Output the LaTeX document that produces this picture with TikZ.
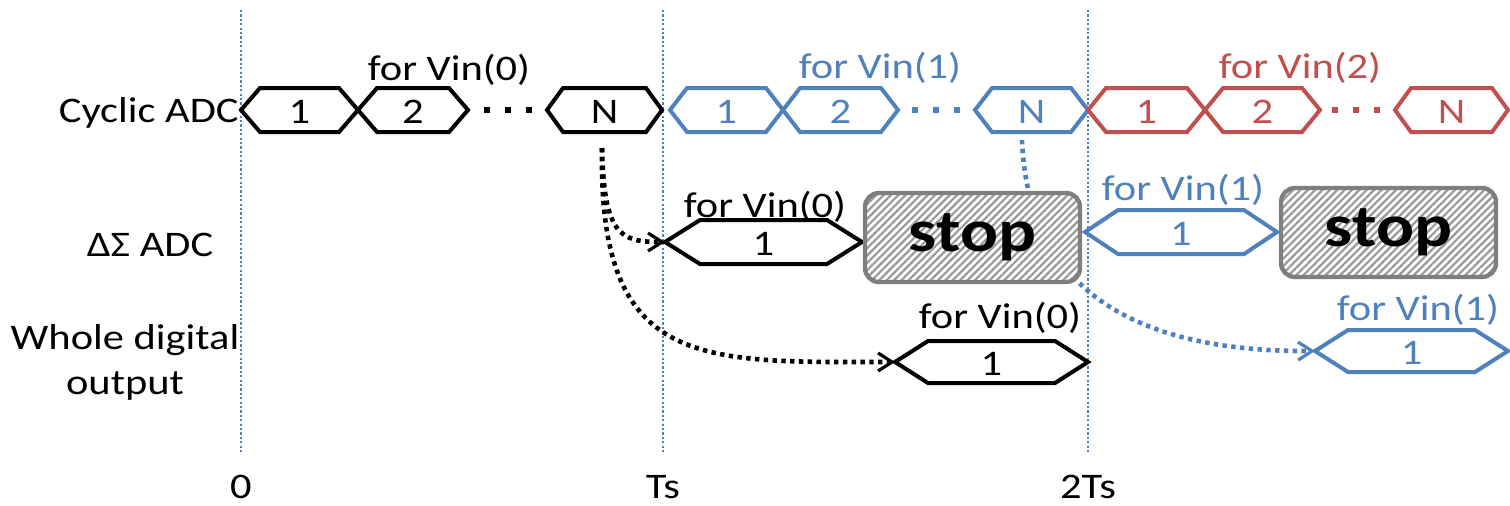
\documentclass[tikz,border=0pt]{standalone}
\usepackage{fontspec}
\setmainfont[FakeStretch=1.18]{Carlito}
\usetikzlibrary{arrows.meta,patterns.meta,backgrounds}
\definecolor{oblue}{RGB}{79,129,189}
\definecolor{ored}{RGB}{192,80,77}
\definecolor{sgray}{RGB}{127,127,127}
\tikzset{
  hexline/.style={line width=2pt, line join=miter},
  lbl/.style={font=\fontsize{18}{22.5}\selectfont, inner sep=0pt},
  vline/.style={oblue, line width=1.3pt, dash pattern=on 1.1pt off 1.1pt},
  conn/.style={line width=2.3pt, dash pattern=on 2.2pt off 2.2pt,
    -{Straight Barb[length=7pt,width=9pt,line width=1.6pt]}},
  stopbox/.style={draw=sgray, line width=2.2pt, rounded corners=7pt,
    preaction={fill=white},
    pattern={Lines[angle=45,distance=2.6pt,line width=1.1pt]}, pattern color=gray!80,
    minimum width=107.5pt, minimum height=44.5pt, inner sep=0pt,
    font=\fontsize{30}{30}\selectfont\bfseries},
  dotsq/.style={inner sep=0pt, minimum size=3pt, fill}
}
% name, xl, xr, yc, halfh, slant, colour, text
\newcommand\hexbox[8]{%
  \draw[hexline,#7] (#2,#4) -- ({#2+#6},{#4-#5}) -- ({#3-#6},{#4-#5}) -- (#3,#4)
     -- ({#3-#6},{#4+#5}) -- ({#2+#6},{#4+#5}) -- cycle;
  \node[lbl,text=#7] (#1) at ({(#2+#3)/2},{#4+2}) {#8};
  \coordinate (#1-w) at (#2,#4);
}
\newcommand\threedots[3]{% name, x0, colour
  \node[dotsq,#3] (#1a) at (#2,110) {};
  \node[dotsq,#3] (#1b) at ({#2+21},110) {};
  \node[dotsq,#3] (#1c) at ({#2+42},110) {};
}
\begin{document}
\begin{tikzpicture}[x=0.5pt,y=-0.5pt]
\useasboundingbox (0,0) rectangle (1510,505);

% time grid
\coordinate (t0a) at (241,10); \coordinate (t0b) at (241,452);
\coordinate (t1a) at (663,10); \coordinate (t1b) at (663,452);
\coordinate (t2a) at (1088,10); \coordinate (t2b) at (1088,452);
\draw[vline] (t0a) -- (t0b);
\draw[vline] (t1a) -- (t1b);
\draw[vline] (t2a) -- (t2b);
\node[lbl] (l0) at (241,487) {0};
\node[lbl] (l1) at (663,487) {Ts};
\node[lbl] (l2) at (1088,487) {2Ts};

% row labels
\node[lbl,anchor=east] (lcyc) at (239,113) {Cyclic ADC};
\node[lbl] (lds) at (150,245) {ΔΣ ADC};
\node[lbl,align=center] (lwd) at (125,362) {Whole digital\\output};

% cyclic ADC row
\hexbox{c01}{241}{358}{110}{22}{19}{black}{1}
\hexbox{c02}{358}{468}{110}{22}{19}{black}{2}
\threedots{d0}{487}{black}
\hexbox{c0N}{547}{662}{110}{22}{16}{black}{N}
\node[lbl] (v0) at (449,70) {for Vin(0)};

\hexbox{c11}{670}{783}{110}{22}{17}{oblue}{1}
\hexbox{c12}{783}{898}{110}{22}{17}{oblue}{2}
\threedots{d1}{915}{oblue}
\hexbox{c1N}{975}{1088}{110}{22}{17}{oblue}{N}
\node[lbl,text=oblue] (v1) at (880,68) {for Vin(1)};

\hexbox{c21}{1088}{1205}{110}{22}{18}{ored}{1}
\hexbox{c22}{1205}{1320}{110}{22}{18}{ored}{2}
\threedots{d2}{1335}{ored}
\hexbox{c2N}{1395}{1508}{110}{22}{16}{ored}{N}
\node[lbl,text=ored] (v2) at (1300,68) {for Vin(2)};

% Delta-Sigma row
\hexbox{ds0}{665}{862}{242}{22}{35}{black}{1}
\node[lbl] (vd0) at (765,207) {for Vin(0)};
\node[stopbox] (stop1) at (972.5,237.5) {stop};
\hexbox{ds1}{1085}{1277}{232}{22}{33}{oblue}{1}
\node[lbl,text=oblue] (vd1) at (1183,190) {for Vin(1)};
\node[stopbox] (stop2) at (1388.5,232.5) {stop};

% whole digital output row
\hexbox{wo0}{895}{1088}{362}{21}{33}{black}{1}
\node[lbl] (vw0) at (1000,318) {for Vin(0)};
\hexbox{wo1}{1315}{1508}{351}{21}{33}{oblue}{1}
\node[lbl,text=oblue] (vw1) at (1418,310) {for Vin(1)};

% connectors
\coordinate (s0) at (602,148);
\coordinate (s1) at (1022,140);
\draw[conn] (s0) .. controls (604,235) and (620,242) .. (ds0-w);
\draw[conn] (s0) .. controls (598,370) and (700,362) .. (wo0-w);
\begin{scope}[on background layer]
\draw[conn,oblue] (s1) .. controls (1028,300) and (1150,352) .. (wo1-w);
\end{scope}
\end{tikzpicture}
\end{document}
